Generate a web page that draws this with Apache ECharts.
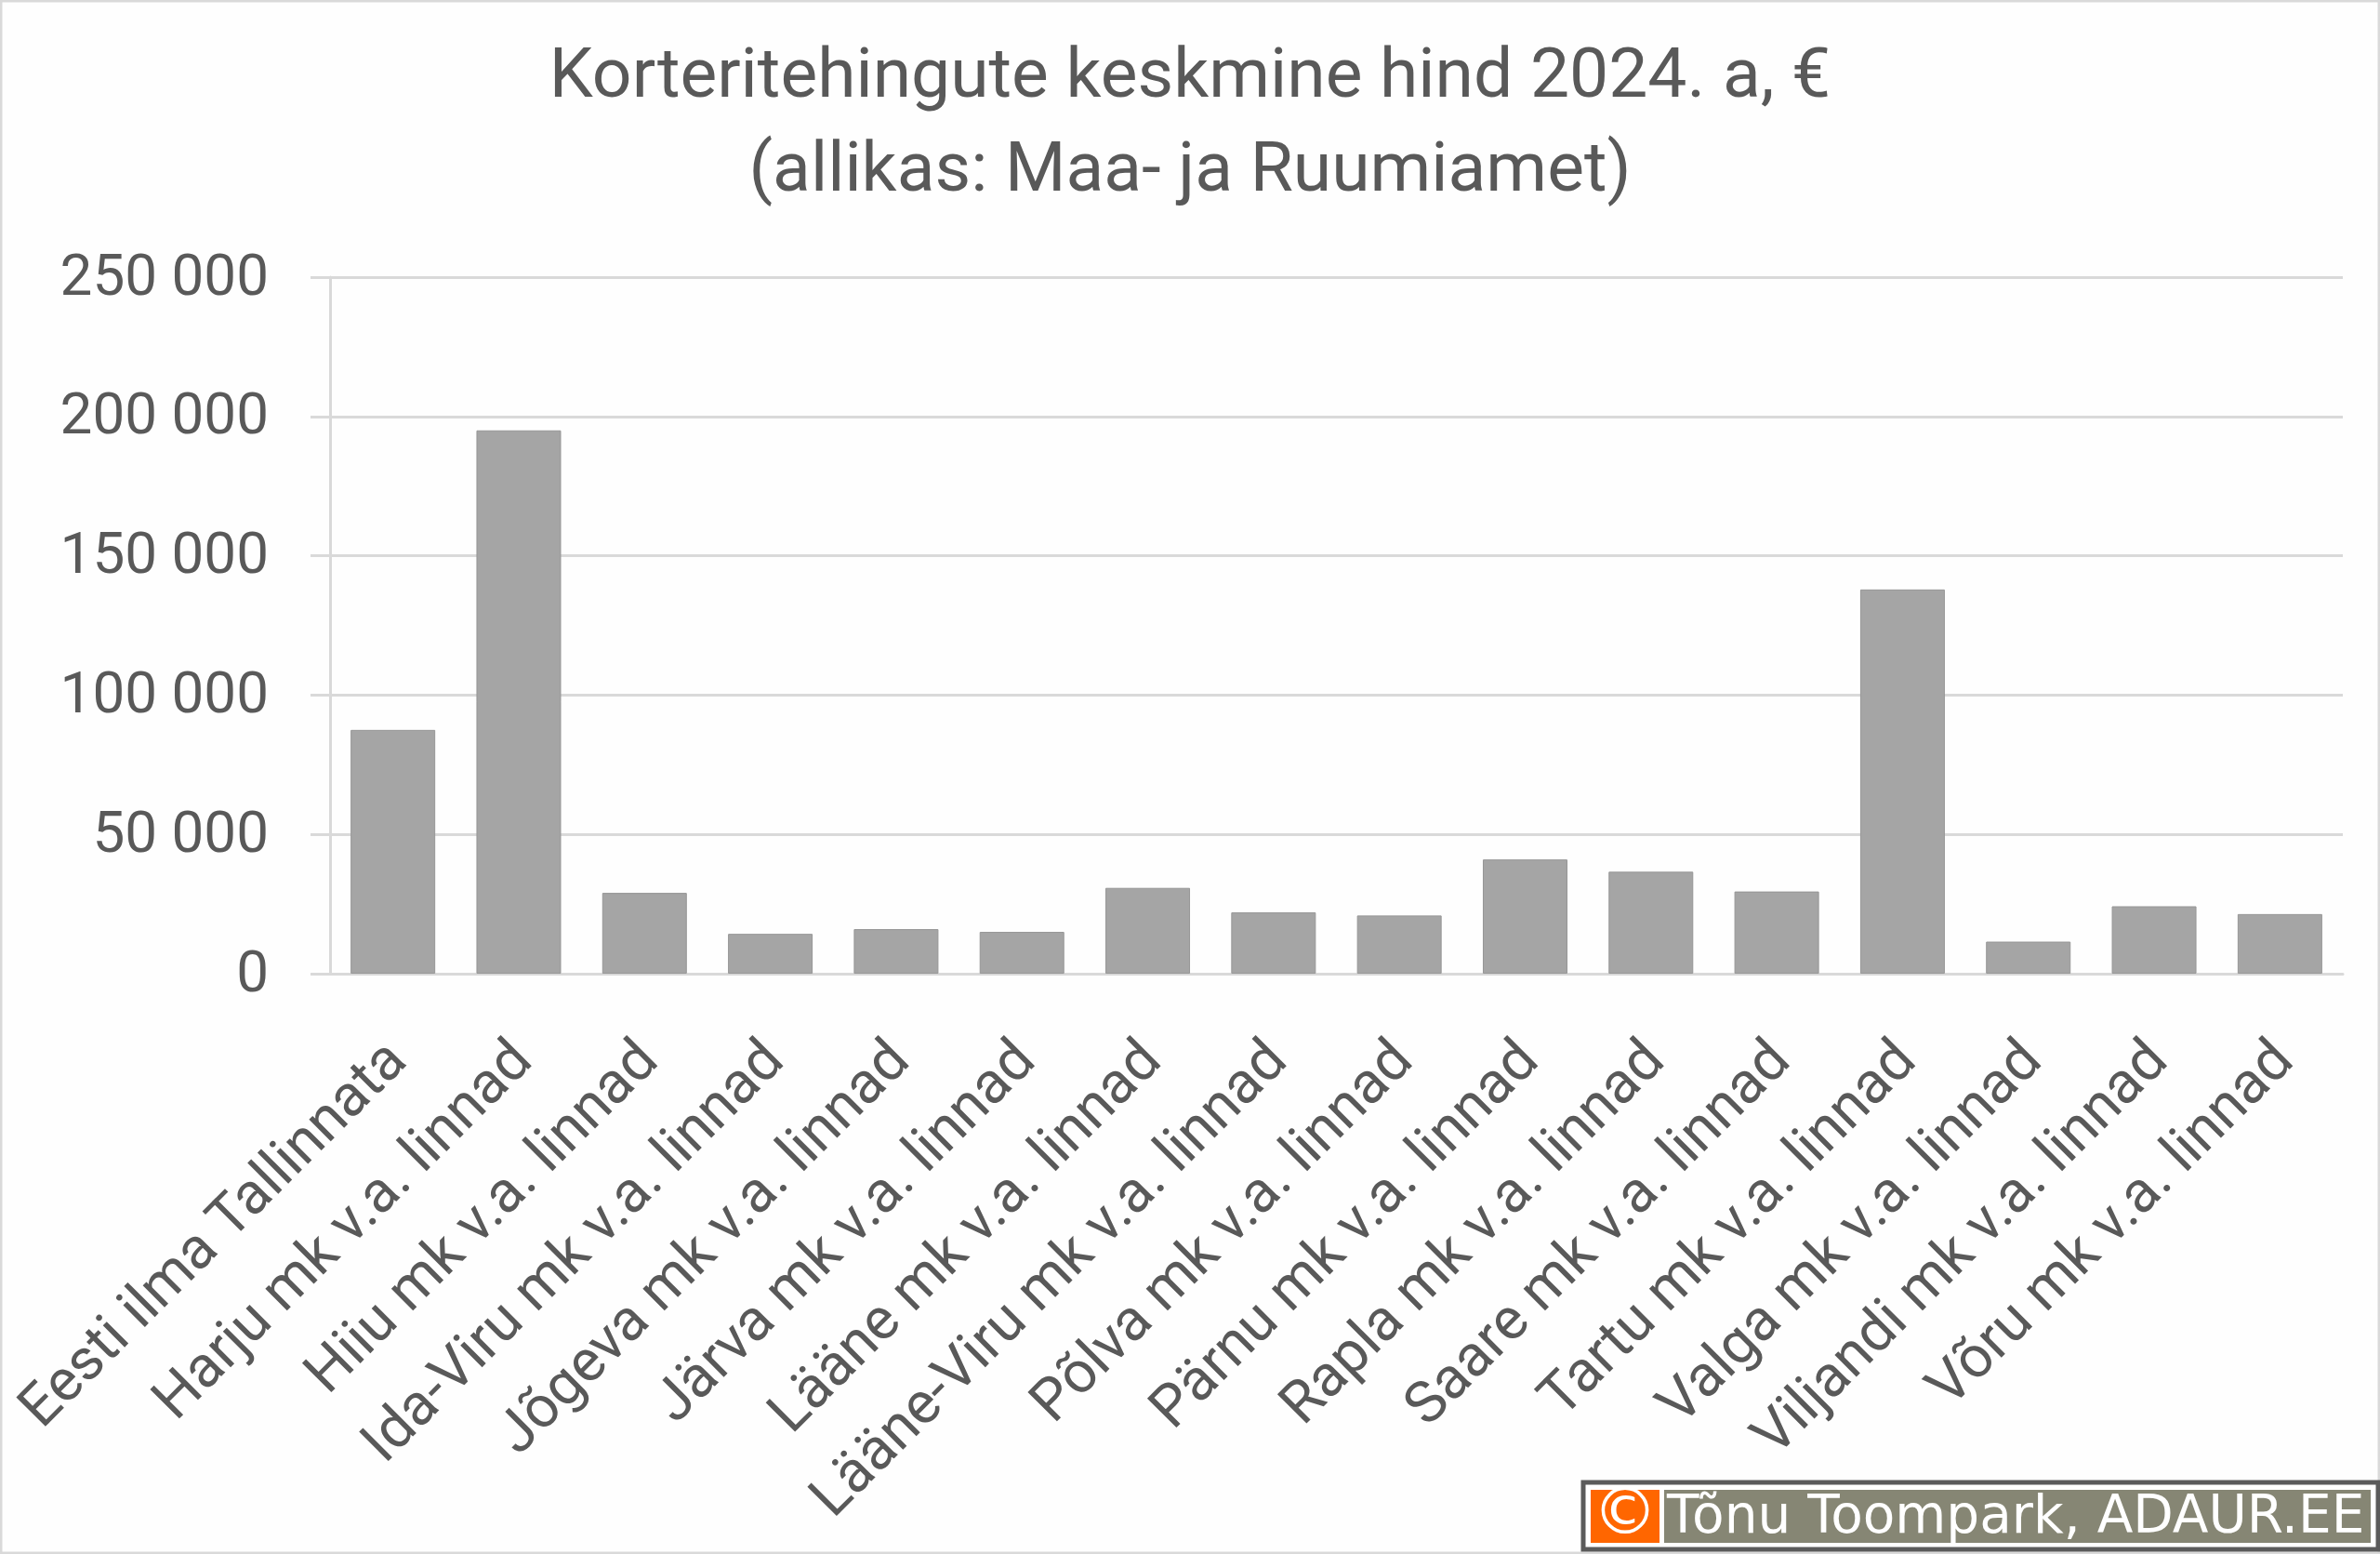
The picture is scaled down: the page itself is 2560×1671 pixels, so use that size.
<!DOCTYPE html>
<html><head><meta charset="utf-8">
<style>html,body{margin:0;padding:0;background:#fff}#c{width:2560px;height:1671px}</style>
<script src="https://cdn.jsdelivr.net/npm/echarts@6/dist/echarts.min.js"></script></head>
<body><div id="c"></div>
<script>
const categories=["Eesti ilma Tallinnata","Harju mk v.a. linnad","Hiiu mk v.a. linnad","Ida-Viru mk v.a. linnad","Jõgeva mk v.a. linnad","Järva mk v.a. linnad","Lääne mk v.a. linnad","Lääne-Viru mk v.a. linnad","Põlva mk v.a. linnad","Pärnu mk v.a. linnad","Rapla mk v.a. linnad","Saare mk v.a. linnad","Tartu mk v.a. linnad","Valga mk v.a. linnad","Viljandi mk v.a. linnad","Võru mk v.a. linnad"];
const prices=[87500,195000,29000,14300,16000,15000,30800,22000,20900,41000,36600,29500,137900,11500,24200,21400];
const titleText="Korteritehingute keskmine hind 2024. a, €\n(allikas: Maa- ja Ruumiamet)";
const creditText="Tõnu Toompark, ADAUR.EE";
const FONT="Roboto";
const chart=echarts.init(document.getElementById('c'),null,{renderer:'canvas'});
chart.setOption({
 animation:false,backgroundColor:'#fefefe',
 title:{text:titleText,top:30,textAlign:'center',left:1275,
  textStyle:{fontFamily:FONT,fontSize:75,fontWeight:'normal',color:'#595959',lineHeight:101}},
 grid:{left:355,right:40,top:298,bottom:624,containLabel:false,outerBoundsMode:'none'},
 xAxis:{type:'category',data:categories,
  axisLine:{lineStyle:{color:'#d9d9d9',width:3}},axisTick:{show:false},
  axisLabel:{rotate:45,interval:0,margin:79,verticalAlign:'top',lineHeight:17,fontFamily:FONT,fontSize:62.6,color:'#595959'}},
 yAxis:{type:'value',min:0,max:250000,interval:50000,
  axisLine:{show:true,lineStyle:{color:'#d9d9d9',width:3}},
  axisTick:{show:true,length:21,lineStyle:{color:'#d9d9d9',width:3}},
  splitLine:{lineStyle:{color:'#d9d9d9',width:3}},
  axisLabel:{margin:66,verticalAlign:'top',lineHeight:6,fontFamily:FONT,fontSize:62,color:'#595959',
   formatter:v=>String(v).replace(/\B(?=(\d{3})+$)/g,' ')}},
 series:[{type:'bar',data:prices,barWidth:91,itemStyle:{color:'#a5a5a5',borderColor:'#969696',borderWidth:1}}],
 graphic:[
  {type:'rect',silent:true,z:0,shape:{x:1,y:1,width:2558,height:1669},style:{fill:'none',stroke:'#d9d9d9',lineWidth:3}},
  {type:'rect',z:10,shape:{x:1703,y:1594,width:855,height:72},style:{fill:'#fff',stroke:'#5b5b5b',lineWidth:5}},
  {type:'rect',z:10,shape:{x:1711,y:1602,width:74,height:57},style:{fill:'#ff6600'}},
  {type:'rect',z:10,shape:{x:1790,y:1602,width:760,height:57},style:{fill:'#868674'}},
  {type:'text',z:11,style:{x:1748,y:1631,text:'©',fill:'#fff',font:"70px 'DejaVu Sans'",textAlign:'center',textVerticalAlign:'middle'}},
  {type:'text',z:11,style:{x:1793,y:1633,text:creditText,fill:'#fff',font:"56.5px 'DejaVu Sans'",textAlign:'left',textVerticalAlign:'middle'}}
 ]
});
</script></body></html>
